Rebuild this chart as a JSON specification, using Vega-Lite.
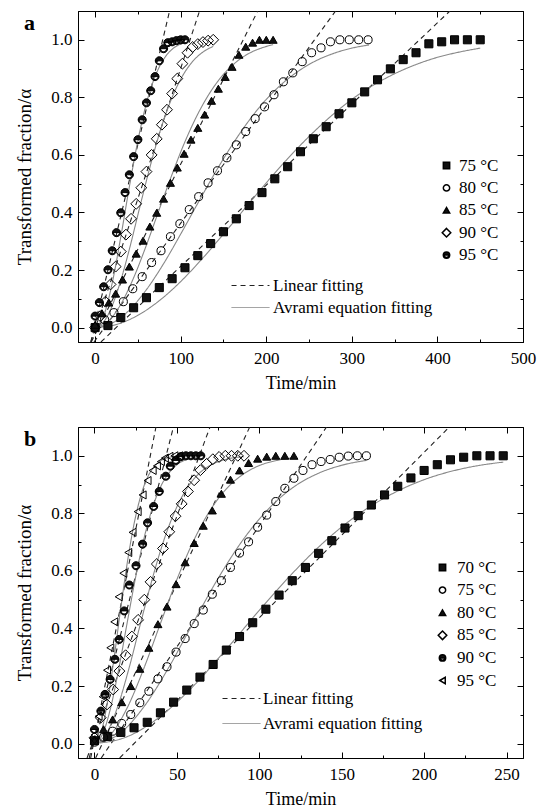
{
"$schema":"https://vega.github.io/schema/vega-lite/v6.json",
"background":"white",
"padding":{"left":15,"top":10,"right":5,"bottom":2},
"spacing":33,
"resolve":{"scale":{"shape":"independent","fill":"independent","stroke":"independent","strokeDash":"independent"},"legend":{"shape":"independent","fill":"independent","stroke":"independent","strokeDash":"independent"}},
"config":{
 "view":{"stroke":"black","strokeWidth":1},
 "font":"Liberation Serif",
 "axis":{"domainColor":"black","domainWidth":1,"tickColor":"black","tickWidth":1,"tickSize":-6,"labelFont":"Liberation Serif","labelFontSize":17,"labelColor":"black","titleFont":"Liberation Serif","titleFontSize":18,"titleFontWeight":"normal","titleColor":"black","grid":false,"labelFlush":false,"labelOverlap":false},
 "axisX":{"labelPadding":14,"titlePadding":8},
 "axisY":{"labelPadding":12,"titlePadding":16,"titleFontSize":19},
 "legend":{"labelFont":"Liberation Serif","labelFontSize":17,"labelColor":"black"}
},
"datasets":{
"pa":[
{"T":"75 °C","t":0,"a":0},{"T":"75 °C","t":15,"a":0.007},{"T":"75 °C","t":30,"a":0.035},{"T":"75 °C","t":45,"a":0.069},{"T":"75 °C","t":60,"a":0.104},{"T":"75 °C","t":75,"a":0.139},{"T":"75 °C","t":90,"a":0.17},{"T":"75 °C","t":105,"a":0.208},{"T":"75 °C","t":120,"a":0.25},{"T":"75 °C","t":135,"a":0.292},{"T":"75 °C","t":150,"a":0.333},{"T":"75 °C","t":165,"a":0.378},{"T":"75 °C","t":180,"a":0.424},{"T":"75 °C","t":195,"a":0.469},{"T":"75 °C","t":210,"a":0.517},{"T":"75 °C","t":225,"a":0.559},{"T":"75 °C","t":240,"a":0.611},{"T":"75 °C","t":255,"a":0.656},{"T":"75 °C","t":270,"a":0.698},{"T":"75 °C","t":285,"a":0.743},{"T":"75 °C","t":300,"a":0.781},{"T":"75 °C","t":315,"a":0.819},{"T":"75 °C","t":330,"a":0.861},{"T":"75 °C","t":345,"a":0.899},{"T":"75 °C","t":360,"a":0.931},{"T":"75 °C","t":375,"a":0.955},{"T":"75 °C","t":390,"a":0.986},{"T":"75 °C","t":405,"a":0.993},{"T":"75 °C","t":420,"a":1},{"T":"75 °C","t":435,"a":1},{"T":"75 °C","t":450,"a":1},
{"T":"80 °C","t":0,"a":0},{"T":"80 °C","t":11,"a":0.028},{"T":"80 °C","t":22,"a":0.052},{"T":"80 °C","t":33,"a":0.09},{"T":"80 °C","t":44,"a":0.135},{"T":"80 °C","t":55,"a":0.177},{"T":"80 °C","t":66,"a":0.226},{"T":"80 °C","t":77,"a":0.267},{"T":"80 °C","t":88,"a":0.316},{"T":"80 °C","t":99,"a":0.361},{"T":"80 °C","t":110,"a":0.41},{"T":"80 °C","t":121,"a":0.455},{"T":"80 °C","t":132,"a":0.503},{"T":"80 °C","t":143,"a":0.545},{"T":"80 °C","t":154,"a":0.59},{"T":"80 °C","t":165,"a":0.635},{"T":"80 °C","t":176,"a":0.681},{"T":"80 °C","t":187,"a":0.726},{"T":"80 °C","t":198,"a":0.767},{"T":"80 °C","t":209,"a":0.809},{"T":"80 °C","t":220,"a":0.854},{"T":"80 °C","t":231,"a":0.885},{"T":"80 °C","t":242,"a":0.924},{"T":"80 °C","t":253,"a":0.955},{"T":"80 °C","t":264,"a":0.972},{"T":"80 °C","t":275,"a":0.993},{"T":"80 °C","t":286,"a":1},{"T":"80 °C","t":297,"a":1},{"T":"80 °C","t":308,"a":1},{"T":"80 °C","t":319,"a":1},
{"T":"85 °C","t":0,"a":0.01},{"T":"85 °C","t":8,"a":0.05},{"T":"85 °C","t":16,"a":0.087},{"T":"85 °C","t":24,"a":0.118},{"T":"85 °C","t":32,"a":0.167},{"T":"85 °C","t":40,"a":0.212},{"T":"85 °C","t":48,"a":0.257},{"T":"85 °C","t":56,"a":0.302},{"T":"85 °C","t":64,"a":0.351},{"T":"85 °C","t":72,"a":0.399},{"T":"85 °C","t":80,"a":0.448},{"T":"85 °C","t":88,"a":0.503},{"T":"85 °C","t":96,"a":0.556},{"T":"85 °C","t":104,"a":0.604},{"T":"85 °C","t":112,"a":0.653},{"T":"85 °C","t":120,"a":0.694},{"T":"85 °C","t":128,"a":0.74},{"T":"85 °C","t":136,"a":0.788},{"T":"85 °C","t":144,"a":0.83},{"T":"85 °C","t":152,"a":0.871},{"T":"85 °C","t":160,"a":0.906},{"T":"85 °C","t":168,"a":0.948},{"T":"85 °C","t":176,"a":0.976},{"T":"85 °C","t":184,"a":0.99},{"T":"85 °C","t":192,"a":1},{"T":"85 °C","t":200,"a":1},{"T":"85 °C","t":208,"a":1},
{"T":"90 °C","t":0,"a":0},{"T":"90 °C","t":6,"a":0.04},{"T":"90 °C","t":12,"a":0.09},{"T":"90 °C","t":18,"a":0.15},{"T":"90 °C","t":24,"a":0.212},{"T":"90 °C","t":30,"a":0.264},{"T":"90 °C","t":36,"a":0.323},{"T":"90 °C","t":42,"a":0.378},{"T":"90 °C","t":48,"a":0.43},{"T":"90 °C","t":54,"a":0.486},{"T":"90 °C","t":60,"a":0.542},{"T":"90 °C","t":66,"a":0.6},{"T":"90 °C","t":72,"a":0.656},{"T":"90 °C","t":78,"a":0.705},{"T":"90 °C","t":84,"a":0.757},{"T":"90 °C","t":90,"a":0.813},{"T":"90 °C","t":96,"a":0.865},{"T":"90 °C","t":102,"a":0.917},{"T":"90 °C","t":108,"a":0.955},{"T":"90 °C","t":114,"a":0.975},{"T":"90 °C","t":120,"a":0.985},{"T":"90 °C","t":126,"a":0.992},{"T":"90 °C","t":132,"a":0.997},{"T":"90 °C","t":138,"a":1},
{"T":"95 °C","t":0,"a":0.04},{"T":"95 °C","t":5,"a":0.087},{"T":"95 °C","t":10,"a":0.142},{"T":"95 °C","t":15,"a":0.201},{"T":"95 °C","t":20,"a":0.267},{"T":"95 °C","t":25,"a":0.33},{"T":"95 °C","t":30,"a":0.399},{"T":"95 °C","t":35,"a":0.469},{"T":"95 °C","t":40,"a":0.531},{"T":"95 °C","t":45,"a":0.594},{"T":"95 °C","t":50,"a":0.653},{"T":"95 °C","t":55,"a":0.722},{"T":"95 °C","t":60,"a":0.781},{"T":"95 °C","t":65,"a":0.823},{"T":"95 °C","t":70,"a":0.872},{"T":"95 °C","t":75,"a":0.927},{"T":"95 °C","t":80,"a":0.969},{"T":"95 °C","t":85,"a":0.99},{"T":"95 °C","t":90,"a":0.993},{"T":"95 °C","t":95,"a":0.997},{"T":"95 °C","t":100,"a":1},{"T":"95 °C","t":105,"a":1}
],
"la":[
{"s":"75L","f":"Linear fitting","t":6.8,"a":-0.05},{"s":"75L","f":"Linear fitting","t":414.6,"a":1.1},
{"s":"80L","f":"Linear fitting","t":-1.3,"a":-0.05},{"s":"80L","f":"Linear fitting","t":281,"a":1.1},
{"s":"85L","f":"Linear fitting","t":-4.5,"a":-0.05},{"s":"85L","f":"Linear fitting","t":190,"a":1.1},
{"s":"90L","f":"Linear fitting","t":-5,"a":-0.05},{"s":"90L","f":"Linear fitting","t":122,"a":1.1},
{"s":"95L","f":"Linear fitting","t":-5,"a":-0.05},{"s":"95L","f":"Linear fitting","t":87,"a":1.1},
{"s":"75A","f":"Avrami equation fitting","t":0,"a":0},{"s":"75A","f":"Avrami equation fitting","t":25,"a":0.0109},{"s":"75A","f":"Avrami equation fitting","t":50,"a":0.0428},{"s":"75A","f":"Avrami equation fitting","t":75,"a":0.0936},{"s":"75A","f":"Avrami equation fitting","t":100,"a":0.16},{"s":"75A","f":"Avrami equation fitting","t":125,"a":0.239},{"s":"75A","f":"Avrami equation fitting","t":150,"a":0.325},{"s":"75A","f":"Avrami equation fitting","t":175,"a":0.414},{"s":"75A","f":"Avrami equation fitting","t":200,"a":0.503},{"s":"75A","f":"Avrami equation fitting","t":225,"a":0.587},{"s":"75A","f":"Avrami equation fitting","t":250,"a":0.664},{"s":"75A","f":"Avrami equation fitting","t":275,"a":0.733},{"s":"75A","f":"Avrami equation fitting","t":300,"a":0.793},{"s":"75A","f":"Avrami equation fitting","t":325,"a":0.842},{"s":"75A","f":"Avrami equation fitting","t":350,"a":0.882},{"s":"75A","f":"Avrami equation fitting","t":375,"a":0.914},{"s":"75A","f":"Avrami equation fitting","t":400,"a":0.939},{"s":"75A","f":"Avrami equation fitting","t":425,"a":0.957},{"s":"75A","f":"Avrami equation fitting","t":450,"a":0.971},
{"s":"80A","f":"Avrami equation fitting","t":0,"a":0},{"s":"80A","f":"Avrami equation fitting","t":20,"a":0.0156},{"s":"80A","f":"Avrami equation fitting","t":40,"a":0.061},{"s":"80A","f":"Avrami equation fitting","t":60,"a":0.132},{"s":"80A","f":"Avrami equation fitting","t":80,"a":0.222},{"s":"80A","f":"Avrami equation fitting","t":100,"a":0.325},{"s":"80A","f":"Avrami equation fitting","t":120,"a":0.432},{"s":"80A","f":"Avrami equation fitting","t":140,"a":0.537},{"s":"80A","f":"Avrami equation fitting","t":160,"a":0.634},{"s":"80A","f":"Avrami equation fitting","t":180,"a":0.72},{"s":"80A","f":"Avrami equation fitting","t":200,"a":0.793},{"s":"80A","f":"Avrami equation fitting","t":220,"a":0.851},{"s":"80A","f":"Avrami equation fitting","t":240,"a":0.896},{"s":"80A","f":"Avrami equation fitting","t":260,"a":0.93},{"s":"80A","f":"Avrami equation fitting","t":280,"a":0.954},{"s":"80A","f":"Avrami equation fitting","t":300,"a":0.971},{"s":"80A","f":"Avrami equation fitting","t":320,"a":0.982},
{"s":"85A","f":"Avrami equation fitting","t":0,"a":0},{"s":"85A","f":"Avrami equation fitting","t":15,"a":0.021},{"s":"85A","f":"Avrami equation fitting","t":30,"a":0.081},{"s":"85A","f":"Avrami equation fitting","t":45,"a":0.173},{"s":"85A","f":"Avrami equation fitting","t":60,"a":0.287},{"s":"85A","f":"Avrami equation fitting","t":75,"a":0.411},{"s":"85A","f":"Avrami equation fitting","t":90,"a":0.533},{"s":"85A","f":"Avrami equation fitting","t":105,"a":0.646},{"s":"85A","f":"Avrami equation fitting","t":120,"a":0.742},{"s":"85A","f":"Avrami equation fitting","t":135,"a":0.82},{"s":"85A","f":"Avrami equation fitting","t":150,"a":0.88},{"s":"85A","f":"Avrami equation fitting","t":165,"a":0.923},{"s":"85A","f":"Avrami equation fitting","t":180,"a":0.953},{"s":"85A","f":"Avrami equation fitting","t":195,"a":0.972},{"s":"85A","f":"Avrami equation fitting","t":208,"a":0.983},
{"s":"90A","f":"Avrami equation fitting","t":0,"a":0},{"s":"90A","f":"Avrami equation fitting","t":10,"a":0.0197},{"s":"90A","f":"Avrami equation fitting","t":20,"a":0.0764},{"s":"90A","f":"Avrami equation fitting","t":30,"a":0.164},{"s":"90A","f":"Avrami equation fitting","t":40,"a":0.272},{"s":"90A","f":"Avrami equation fitting","t":50,"a":0.392},{"s":"90A","f":"Avrami equation fitting","t":60,"a":0.511},{"s":"90A","f":"Avrami equation fitting","t":70,"a":0.622},{"s":"90A","f":"Avrami equation fitting","t":80,"a":0.72},{"s":"90A","f":"Avrami equation fitting","t":90,"a":0.8},{"s":"90A","f":"Avrami equation fitting","t":100,"a":0.863},{"s":"90A","f":"Avrami equation fitting","t":110,"a":0.91},{"s":"90A","f":"Avrami equation fitting","t":120,"a":0.943},{"s":"90A","f":"Avrami equation fitting","t":130,"a":0.965},{"s":"90A","f":"Avrami equation fitting","t":138,"a":0.977},
{"s":"95A","f":"Avrami equation fitting","t":0,"a":0},{"s":"95A","f":"Avrami equation fitting","t":10,"a":0.041},{"s":"95A","f":"Avrami equation fitting","t":20,"a":0.155},{"s":"95A","f":"Avrami equation fitting","t":30,"a":0.315},{"s":"95A","f":"Avrami equation fitting","t":40,"a":0.489},{"s":"95A","f":"Avrami equation fitting","t":50,"a":0.65},{"s":"95A","f":"Avrami equation fitting","t":60,"a":0.78},{"s":"95A","f":"Avrami equation fitting","t":70,"a":0.872},{"s":"95A","f":"Avrami equation fitting","t":80,"a":0.932},{"s":"95A","f":"Avrami equation fitting","t":90,"a":0.967},{"s":"95A","f":"Avrami equation fitting","t":105,"a":0.99}
],
"pb":[
{"T":"70 °C","t":0,"a":0.01},{"T":"70 °C","t":8,"a":0.025},{"T":"70 °C","t":16,"a":0.039},{"T":"70 °C","t":24,"a":0.055},{"T":"70 °C","t":32,"a":0.074},{"T":"70 °C","t":40,"a":0.107},{"T":"70 °C","t":48,"a":0.144},{"T":"70 °C","t":56,"a":0.186},{"T":"70 °C","t":64,"a":0.231},{"T":"70 °C","t":72,"a":0.275},{"T":"70 °C","t":80,"a":0.325},{"T":"70 °C","t":88,"a":0.372},{"T":"70 °C","t":96,"a":0.42},{"T":"70 °C","t":104,"a":0.467},{"T":"70 °C","t":112,"a":0.516},{"T":"70 °C","t":120,"a":0.566},{"T":"70 °C","t":128,"a":0.612},{"T":"70 °C","t":136,"a":0.661},{"T":"70 °C","t":144,"a":0.705},{"T":"70 °C","t":152,"a":0.749},{"T":"70 °C","t":160,"a":0.792},{"T":"70 °C","t":168,"a":0.829},{"T":"70 °C","t":176,"a":0.864},{"T":"70 °C","t":184,"a":0.894},{"T":"70 °C","t":192,"a":0.923},{"T":"70 °C","t":200,"a":0.949},{"T":"70 °C","t":208,"a":0.969},{"T":"70 °C","t":216,"a":0.986},{"T":"70 °C","t":224,"a":0.995},{"T":"70 °C","t":232,"a":1},{"T":"70 °C","t":240,"a":1},{"T":"70 °C","t":248,"a":1},
{"T":"75 °C","t":0,"a":0.005},{"T":"75 °C","t":5.5,"a":0.022},{"T":"75 °C","t":11,"a":0.043},{"T":"75 °C","t":16.5,"a":0.07},{"T":"75 °C","t":22,"a":0.101},{"T":"75 °C","t":27.5,"a":0.142},{"T":"75 °C","t":33,"a":0.182},{"T":"75 °C","t":38.5,"a":0.225},{"T":"75 °C","t":44,"a":0.267},{"T":"75 °C","t":49.5,"a":0.318},{"T":"75 °C","t":55,"a":0.365},{"T":"75 °C","t":60.5,"a":0.417},{"T":"75 °C","t":66,"a":0.464},{"T":"75 °C","t":71.5,"a":0.519},{"T":"75 °C","t":77,"a":0.566},{"T":"75 °C","t":82.5,"a":0.612},{"T":"75 °C","t":88,"a":0.662},{"T":"75 °C","t":93.5,"a":0.701},{"T":"75 °C","t":99,"a":0.752},{"T":"75 °C","t":104.5,"a":0.794},{"T":"75 °C","t":110,"a":0.841},{"T":"75 °C","t":115.5,"a":0.887},{"T":"75 °C","t":121,"a":0.922},{"T":"75 °C","t":126.5,"a":0.949},{"T":"75 °C","t":132,"a":0.969},{"T":"75 °C","t":137.5,"a":0.98},{"T":"75 °C","t":143,"a":0.987},{"T":"75 °C","t":148.5,"a":0.995},{"T":"75 °C","t":154,"a":0.999},{"T":"75 °C","t":159.5,"a":1},{"T":"75 °C","t":165,"a":1},
{"T":"80 °C","t":0,"a":0.01},{"T":"80 °C","t":5.5,"a":0.05},{"T":"80 °C","t":11,"a":0.084},{"T":"80 °C","t":16.5,"a":0.144},{"T":"80 °C","t":22,"a":0.2},{"T":"80 °C","t":27.5,"a":0.26},{"T":"80 °C","t":33,"a":0.333},{"T":"80 °C","t":38.5,"a":0.415},{"T":"80 °C","t":44,"a":0.476},{"T":"80 °C","t":49.5,"a":0.554},{"T":"80 °C","t":55,"a":0.63},{"T":"80 °C","t":60.5,"a":0.697},{"T":"80 °C","t":66,"a":0.757},{"T":"80 °C","t":71.5,"a":0.81},{"T":"80 °C","t":77,"a":0.868},{"T":"80 °C","t":82.5,"a":0.917},{"T":"80 °C","t":88,"a":0.949},{"T":"80 °C","t":93.5,"a":0.975},{"T":"80 °C","t":99,"a":0.99},{"T":"80 °C","t":104.5,"a":0.997},{"T":"80 °C","t":110,"a":1},{"T":"80 °C","t":115.5,"a":1},{"T":"80 °C","t":121,"a":1},
{"T":"85 °C","t":0,"a":0.02},{"T":"85 °C","t":3.78,"a":0.09},{"T":"85 °C","t":7.56,"a":0.136},{"T":"85 °C","t":11.34,"a":0.188},{"T":"85 °C","t":15.12,"a":0.252},{"T":"85 °C","t":18.9,"a":0.307},{"T":"85 °C","t":22.68,"a":0.372},{"T":"85 °C","t":26.46,"a":0.43},{"T":"85 °C","t":30.24,"a":0.5},{"T":"85 °C","t":34.02,"a":0.562},{"T":"85 °C","t":37.8,"a":0.624},{"T":"85 °C","t":41.58,"a":0.678},{"T":"85 °C","t":45.36,"a":0.736},{"T":"85 °C","t":49.14,"a":0.79},{"T":"85 °C","t":52.92,"a":0.833},{"T":"85 °C","t":56.7,"a":0.876},{"T":"85 °C","t":60.48,"a":0.915},{"T":"85 °C","t":64.26,"a":0.95},{"T":"85 °C","t":68.04,"a":0.972},{"T":"85 °C","t":71.82,"a":0.988},{"T":"85 °C","t":75.6,"a":0.996},{"T":"85 °C","t":79.38,"a":1},{"T":"85 °C","t":83.16,"a":1},{"T":"85 °C","t":86.94,"a":1},{"T":"85 °C","t":90.72,"a":1},
{"T":"90 °C","t":0,"a":0.049},{"T":"90 °C","t":3.9,"a":0.113},{"T":"90 °C","t":6.4,"a":0.171},{"T":"90 °C","t":9.5,"a":0.223},{"T":"90 °C","t":12.4,"a":0.293},{"T":"90 °C","t":15,"a":0.362},{"T":"90 °C","t":18,"a":0.461},{"T":"90 °C","t":21.1,"a":0.551},{"T":"90 °C","t":25.2,"a":0.618},{"T":"90 °C","t":29.2,"a":0.693},{"T":"90 °C","t":32.2,"a":0.767},{"T":"90 °C","t":35.9,"a":0.824},{"T":"90 °C","t":39.3,"a":0.876},{"T":"90 °C","t":43.3,"a":0.929},{"T":"90 °C","t":46,"a":0.964},{"T":"90 °C","t":49.4,"a":0.984},{"T":"90 °C","t":52.4,"a":0.997},{"T":"90 °C","t":55.5,"a":1},{"T":"90 °C","t":58.5,"a":1},{"T":"90 °C","t":61.5,"a":1},{"T":"90 °C","t":64.5,"a":1},
{"T":"95 °C","t":0,"a":0.03},{"T":"95 °C","t":2.5,"a":0.095},{"T":"95 °C","t":5,"a":0.163},{"T":"95 °C","t":7.6,"a":0.255},{"T":"95 °C","t":9.6,"a":0.333},{"T":"95 °C","t":12,"a":0.423},{"T":"95 °C","t":14.7,"a":0.51},{"T":"95 °C","t":17.5,"a":0.592},{"T":"95 °C","t":20.5,"a":0.664},{"T":"95 °C","t":23.1,"a":0.734},{"T":"95 °C","t":26.2,"a":0.806},{"T":"95 °C","t":29.2,"a":0.864},{"T":"95 °C","t":32.2,"a":0.914},{"T":"95 °C","t":35.3,"a":0.949},{"T":"95 °C","t":37.9,"a":0.965},{"T":"95 °C","t":40.3,"a":0.98},{"T":"95 °C","t":42.7,"a":0.992},{"T":"95 °C","t":45.5,"a":0.998},{"T":"95 °C","t":48.5,"a":1},{"T":"95 °C","t":51.4,"a":1}
],
"lb":[
{"s":"70L","f":"Linear fitting","t":15.3,"a":-0.05},{"s":"70L","f":"Linear fitting","t":215.3,"a":1.1},
{"s":"75L","f":"Linear fitting","t":4.1,"a":-0.05},{"s":"75L","f":"Linear fitting","t":140.8,"a":1.1},
{"s":"80L","f":"Linear fitting","t":0.7,"a":-0.05},{"s":"80L","f":"Linear fitting","t":94.2,"a":1.1},
{"s":"85L","f":"Linear fitting","t":-4.5,"a":-0.05},{"s":"85L","f":"Linear fitting","t":70.1,"a":1.1},
{"s":"90L","f":"Linear fitting","t":-3.2,"a":-0.05},{"s":"90L","f":"Linear fitting","t":47.9,"a":1.1},
{"s":"95L","f":"Linear fitting","t":-2.3,"a":-0.05},{"s":"95L","f":"Linear fitting","t":37.3,"a":1.1},
{"s":"70A","f":"Avrami equation fitting","t":0,"a":0},{"s":"70A","f":"Avrami equation fitting","t":20,"a":0.0245},{"s":"70A","f":"Avrami equation fitting","t":40,"a":0.0946},{"s":"70A","f":"Avrami equation fitting","t":60,"a":0.2},{"s":"70A","f":"Avrami equation fitting","t":80,"a":0.328},{"s":"70A","f":"Avrami equation fitting","t":100,"a":0.463},{"s":"70A","f":"Avrami equation fitting","t":120,"a":0.591},{"s":"70A","f":"Avrami equation fitting","t":140,"a":0.704},{"s":"70A","f":"Avrami equation fitting","t":160,"a":0.796},{"s":"70A","f":"Avrami equation fitting","t":180,"a":0.866},{"s":"70A","f":"Avrami equation fitting","t":200,"a":0.917},{"s":"70A","f":"Avrami equation fitting","t":220,"a":0.951},{"s":"70A","f":"Avrami equation fitting","t":234,"a":0.967},{"s":"70A","f":"Avrami equation fitting","t":248,"a":0.978},
{"s":"75A","f":"Avrami equation fitting","t":0,"a":0},{"s":"75A","f":"Avrami equation fitting","t":15,"a":0.0336},{"s":"75A","f":"Avrami equation fitting","t":30,"a":0.128},{"s":"75A","f":"Avrami equation fitting","t":45,"a":0.264},{"s":"75A","f":"Avrami equation fitting","t":60,"a":0.421},{"s":"75A","f":"Avrami equation fitting","t":75,"a":0.574},{"s":"75A","f":"Avrami equation fitting","t":90,"a":0.707},{"s":"75A","f":"Avrami equation fitting","t":105,"a":0.812},{"s":"75A","f":"Avrami equation fitting","t":120,"a":0.888},{"s":"75A","f":"Avrami equation fitting","t":135,"a":0.937},{"s":"75A","f":"Avrami equation fitting","t":150,"a":0.967},{"s":"75A","f":"Avrami equation fitting","t":165,"a":0.984},
{"s":"80A","f":"Avrami equation fitting","t":0,"a":0},{"s":"80A","f":"Avrami equation fitting","t":10,"a":0.0332},{"s":"80A","f":"Avrami equation fitting","t":20,"a":0.126},{"s":"80A","f":"Avrami equation fitting","t":30,"a":0.262},{"s":"80A","f":"Avrami equation fitting","t":40,"a":0.417},{"s":"80A","f":"Avrami equation fitting","t":50,"a":0.57},{"s":"80A","f":"Avrami equation fitting","t":60,"a":0.703},{"s":"80A","f":"Avrami equation fitting","t":70,"a":0.809},{"s":"80A","f":"Avrami equation fitting","t":80,"a":0.885},{"s":"80A","f":"Avrami equation fitting","t":90,"a":0.935},{"s":"80A","f":"Avrami equation fitting","t":100,"a":0.966},{"s":"80A","f":"Avrami equation fitting","t":110,"a":0.983},{"s":"80A","f":"Avrami equation fitting","t":121,"a":0.993},
{"s":"85A","f":"Avrami equation fitting","t":0,"a":0},{"s":"85A","f":"Avrami equation fitting","t":7,"a":0.0333},{"s":"85A","f":"Avrami equation fitting","t":14,"a":0.127},{"s":"85A","f":"Avrami equation fitting","t":21,"a":0.263},{"s":"85A","f":"Avrami equation fitting","t":28,"a":0.419},{"s":"85A","f":"Avrami equation fitting","t":35,"a":0.571},{"s":"85A","f":"Avrami equation fitting","t":42,"a":0.705},{"s":"85A","f":"Avrami equation fitting","t":49,"a":0.81},{"s":"85A","f":"Avrami equation fitting","t":56,"a":0.886},{"s":"85A","f":"Avrami equation fitting","t":63,"a":0.936},{"s":"85A","f":"Avrami equation fitting","t":70,"a":0.966},{"s":"85A","f":"Avrami equation fitting","t":80,"a":0.988},{"s":"85A","f":"Avrami equation fitting","t":90.7,"a":0.997},
{"s":"90A","f":"Avrami equation fitting","t":0,"a":0},{"s":"90A","f":"Avrami equation fitting","t":5,"a":0.034},{"s":"90A","f":"Avrami equation fitting","t":10,"a":0.129},{"s":"90A","f":"Avrami equation fitting","t":15,"a":0.268},{"s":"90A","f":"Avrami equation fitting","t":20,"a":0.425},{"s":"90A","f":"Avrami equation fitting","t":25,"a":0.579},{"s":"90A","f":"Avrami equation fitting","t":30,"a":0.712},{"s":"90A","f":"Avrami equation fitting","t":35,"a":0.816},{"s":"90A","f":"Avrami equation fitting","t":40,"a":0.891},{"s":"90A","f":"Avrami equation fitting","t":45,"a":0.939},{"s":"90A","f":"Avrami equation fitting","t":50,"a":0.969},{"s":"90A","f":"Avrami equation fitting","t":57,"a":0.989},{"s":"90A","f":"Avrami equation fitting","t":64.5,"a":0.997},
{"s":"95A","f":"Avrami equation fitting","t":0,"a":0},{"s":"95A","f":"Avrami equation fitting","t":4,"a":0.039},{"s":"95A","f":"Avrami equation fitting","t":8,"a":0.148},{"s":"95A","f":"Avrami equation fitting","t":12,"a":0.302},{"s":"95A","f":"Avrami equation fitting","t":16,"a":0.473},{"s":"95A","f":"Avrami equation fitting","t":20,"a":0.632},{"s":"95A","f":"Avrami equation fitting","t":24,"a":0.763},{"s":"95A","f":"Avrami equation fitting","t":28,"a":0.859},{"s":"95A","f":"Avrami equation fitting","t":32,"a":0.923},{"s":"95A","f":"Avrami equation fitting","t":36,"a":0.961},{"s":"95A","f":"Avrami equation fitting","t":40,"a":0.982},{"s":"95A","f":"Avrami equation fitting","t":45,"a":0.994},{"s":"95A","f":"Avrami equation fitting","t":51.4,"a":0.999}
]
},
"vconcat":[
{
"width":445,"height":331,
"title":{"text":"a","anchor":"start","frame":"group","fontSize":22,"fontWeight":"bold","font":"Liberation Serif","color":"black","dx":-54,"offset":-41,"baseline":"alphabetic"},
"layer":[
{"data":{"name":"la"},
"mark":{"type":"line","interpolate":"monotone","clip":true,"strokeWidth":1.1},
"encoding":{
"x":{"field":"t","type":"quantitative","scale":{"domain":[-20,500],"nice":false,"zero":false},"axis":{"orient":"bottom","title":"Time/min","values":[0,50,100,150,200,250,300,350,400,450,500],"labelExpr":"datum.value % 100 === 0 ? datum.label : ''","tickDash":{"condition":{"test":"datum.value % 100 !== 0","value":[3,20]},"value":[8,0]}}},
"y":{"field":"a","type":"quantitative","scale":{"domain":[-0.05,1.1],"nice":false,"zero":false},"axis":{"orient":"left","title":"Transformed fraction/α","values":[0,0.1,0.2,0.3,0.4,0.5,0.6,0.7,0.8,0.9,1.0],"labelExpr":"round(datum.value*10) % 2 === 0 ? format(datum.value, '.1f') : ''","tickDash":{"condition":{"test":"round(datum.value*10) % 2 !== 0","value":[3,20]},"value":[8,0]}}},
"detail":{"field":"s","type":"nominal"},
"stroke":{"field":"f","type":"nominal","scale":{"domain":["Linear fitting","Avrami equation fitting"],"range":["#222222","#888888"]},"legend":{"title":null,"orient":"none","legendX":164,"legendY":266,"symbolType":"M-2.5,0L2.5,0","symbolSize":230,"symbolStrokeWidth":1,"labelOffset":14,"rowPadding":4}},
"strokeDash":{"field":"f","type":"nominal","scale":{"domain":["Linear fitting","Avrami equation fitting"],"range":[[5,4],[1,0]]},"legend":{"title":null,"orient":"none","legendX":164,"legendY":266,"symbolType":"M-2.5,0L2.5,0","symbolSize":230,"symbolStrokeWidth":1,"labelOffset":14,"rowPadding":4}}
}},
{"data":{"name":"pa"},
"mark":{"type":"point","filled":true,"stroke":"black","strokeWidth":1,"size":65,"opacity":1},
"encoding":{
"x":{"field":"t","type":"quantitative","scale":{"domain":[-20,500],"nice":false,"zero":false},"axis":{"orient":"top","title":null,"labels":false,"values":[0,50,100,150,200,250,300,350,400,450,500],"tickDash":{"condition":{"test":"datum.value % 100 !== 0","value":[3,20]},"value":[8,0]}}},
"y":{"field":"a","type":"quantitative","scale":{"domain":[-0.05,1.1],"nice":false,"zero":false},"axis":{"orient":"right","title":null,"labels":false,"values":[0,0.1,0.2,0.3,0.4,0.5,0.6,0.7,0.8,0.9,1.0],"tickDash":{"condition":{"test":"round(datum.value*10) % 2 !== 0","value":[3,20]},"value":[8,0]}}},
"shape":{"field":"T","type":"nominal","scale":{"domain":["75 °C","80 °C","85 °C","90 °C","95 °C"],"range":["square","circle","triangle-up","M0,-1.35L1.35,0L0,1.35L-1.35,0Z","M-1,0A1,1,0,0,1,1,0ZM-1,0A1,1,0,0,0,1,0L0.75,0A0.75,0.75,0,0,1,-0.75,0Z"]},"legend":{"title":null,"orient":"none","legendX":360,"legendY":146,"symbolSize":40,"labelOffset":4,"rowPadding":4.4,"encode":{"symbols":{"update":{"stroke":{"value":"black"},"strokeWidth":{"value":1}}}}}},
"fill":{"field":"T","type":"nominal","scale":{"domain":["75 °C","80 °C","85 °C","90 °C","95 °C"],"range":["#111111","transparent","#111111","transparent","#111111"]},"legend":{"title":null,"orient":"none","legendX":360,"legendY":146,"symbolSize":40,"labelOffset":4,"rowPadding":4.4,"encode":{"symbols":{"update":{"stroke":{"value":"black"},"strokeWidth":{"value":1}}}}}}
}}
],
"resolve":{"axis":{"x":"independent","y":"independent"}}
},
{
"width":445,"height":331,
"title":{"text":"b","anchor":"start","frame":"group","fontSize":22,"fontWeight":"bold","font":"Liberation Serif","color":"black","dx":-54,"offset":-41,"baseline":"alphabetic"},
"layer":[
{"data":{"name":"lb"},
"mark":{"type":"line","interpolate":"monotone","clip":true,"strokeWidth":1.1},
"encoding":{
"x":{"field":"t","type":"quantitative","scale":{"domain":[-10,260],"nice":false,"zero":false},"axis":{"orient":"bottom","title":"Time/min","values":[0,25,50,75,100,125,150,175,200,225,250],"labelExpr":"datum.value % 50 === 0 ? datum.label : ''","tickDash":{"condition":{"test":"datum.value % 50 !== 0","value":[3,20]},"value":[8,0]}}},
"y":{"field":"a","type":"quantitative","scale":{"domain":[-0.05,1.1],"nice":false,"zero":false},"axis":{"orient":"left","title":"Transformed fraction/α","values":[0,0.1,0.2,0.3,0.4,0.5,0.6,0.7,0.8,0.9,1.0],"labelExpr":"round(datum.value*10) % 2 === 0 ? format(datum.value, '.1f') : ''","tickDash":{"condition":{"test":"round(datum.value*10) % 2 !== 0","value":[3,20]},"value":[8,0]}}},
"detail":{"field":"s","type":"nominal"},
"stroke":{"field":"f","type":"nominal","scale":{"domain":["Linear fitting","Avrami equation fitting"],"range":["#222222","#888888"]},"legend":{"title":null,"orient":"none","legendX":155,"legendY":263,"symbolType":"M-2.5,0L2.5,0","symbolSize":230,"symbolStrokeWidth":1,"labelOffset":13,"rowPadding":7}},
"strokeDash":{"field":"f","type":"nominal","scale":{"domain":["Linear fitting","Avrami equation fitting"],"range":[[5,4],[1,0]]},"legend":{"title":null,"orient":"none","legendX":155,"legendY":263,"symbolType":"M-2.5,0L2.5,0","symbolSize":230,"symbolStrokeWidth":1,"labelOffset":13,"rowPadding":7}}
}},
{"data":{"name":"pb"},
"mark":{"type":"point","filled":true,"stroke":"black","strokeWidth":1,"size":65,"opacity":1},
"encoding":{
"x":{"field":"t","type":"quantitative","scale":{"domain":[-10,260],"nice":false,"zero":false},"axis":{"orient":"top","title":null,"labels":false,"values":[0,25,50,75,100,125,150,175,200,225,250],"tickDash":{"condition":{"test":"datum.value % 50 !== 0","value":[3,20]},"value":[8,0]}}},
"y":{"field":"a","type":"quantitative","scale":{"domain":[-0.05,1.1],"nice":false,"zero":false},"axis":{"orient":"right","title":null,"labels":false,"values":[0,0.1,0.2,0.3,0.4,0.5,0.6,0.7,0.8,0.9,1.0],"tickDash":{"condition":{"test":"round(datum.value*10) % 2 !== 0","value":[3,20]},"value":[8,0]}}},
"shape":{"field":"T","type":"nominal","scale":{"domain":["70 °C","75 °C","80 °C","85 °C","90 °C","95 °C"],"range":["square","circle","triangle-up","M0,-1.35L1.35,0L0,1.35L-1.35,0Z","M-1,0A1,1,0,0,1,1,0ZM-1,0A1,1,0,0,0,1,0L0.75,0A0.75,0.75,0,0,1,-0.75,0Z","triangle-left"]},"legend":{"title":null,"orient":"none","legendX":356,"legendY":132,"symbolSize":40,"labelOffset":6,"rowPadding":4.6,"encode":{"symbols":{"update":{"stroke":{"value":"black"},"strokeWidth":{"value":1}}}}}},
"fill":{"field":"T","type":"nominal","scale":{"domain":["70 °C","75 °C","80 °C","85 °C","90 °C","95 °C"],"range":["#111111","transparent","#111111","transparent","#111111","transparent"]},"legend":{"title":null,"orient":"none","legendX":356,"legendY":132,"symbolSize":40,"labelOffset":6,"rowPadding":4.6,"encode":{"symbols":{"update":{"stroke":{"value":"black"},"strokeWidth":{"value":1}}}}}}
}}
],
"resolve":{"axis":{"x":"independent","y":"independent"}}
}
]
}
